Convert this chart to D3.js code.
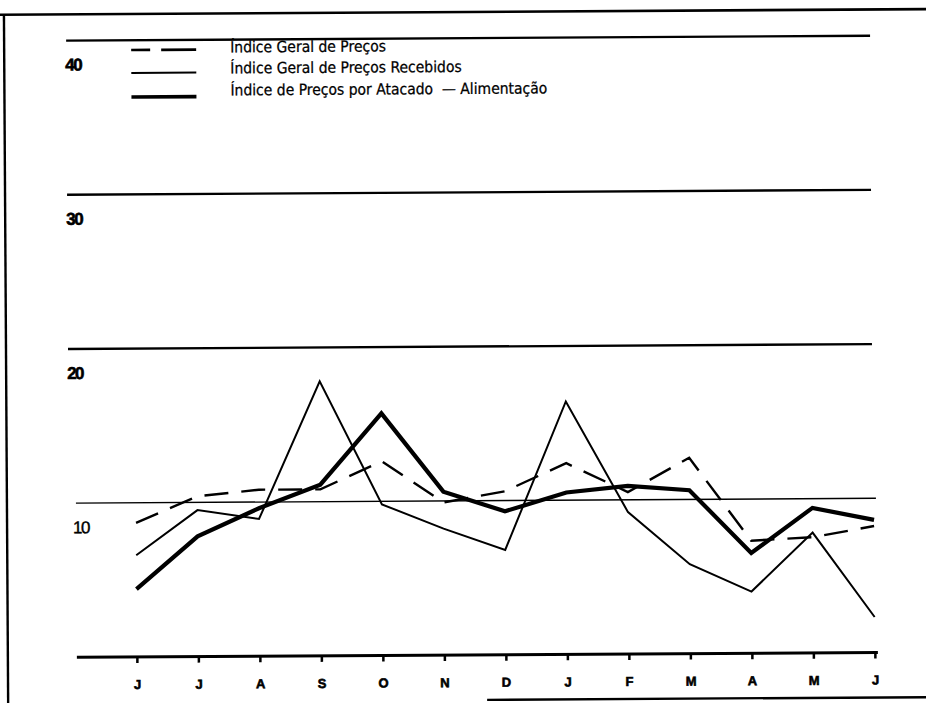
<!DOCTYPE html>
<html>
<head>
<meta charset="utf-8">
<script src="https://cdn.jsdelivr.net/npm/d3@7"></script>
<style>
  html, body { margin: 0; padding: 0; background: #fff; }
  svg { display: block; }
  .legtext { white-space: pre; }
</style>
</head>
<body>
<svg id="chart" width="926" height="703"></svg>
<script>
// ---- data ----
const months = ["J", "J", "A", "S", "O", "N", "D", "J", "F", "M", "A", "M", "J"];
const yTicks = [10, 20, 30, 40];
const indiceGeral = [8.7, 10.4, 10.8, 10.8, 12.6, 9.9, 10.6, 12.4, 10.5, 12.7, 7.3, 7.5, 8.2];
const indiceRecebidos = [6.6, 9.5, 8.9, 17.8, 9.8, 8.2, 6.8, 16.4, 9.2, 5.8, 4.0, 7.8, 2.3];
const indiceAtacado = [4.4, 7.8, 9.6, 11.1, 15.7, 10.6, 9.3, 10.5, 10.9, 10.6, 6.5, 9.4, 8.6];
const legendLabels = [
  "Índice Geral de Preços",
  "Índice Geral de Preços Recebidos",
  "Índice de Preços por Atacado  — Alimentação"
];

const svg = d3.select("#chart");
const g = svg.append("g").attr("transform", "rotate(-0.35, 463, 350)");

const x = d3.scalePoint().domain(d3.range(months.length)).range([135, 873]);
const y = d3.scaleLinear().domain([0, 40]).range([655, 38.2]);

// frame
g.append("line").attr("x1", -5).attr("x2", 935).attr("y1", 12).attr("y2", 12)
  .attr("stroke", "#000").attr("stroke-width", 2.6);
g.append("line").attr("x1", 6).attr("x2", 6).attr("y1", 12).attr("y2", 710)
  .attr("stroke", "#000").attr("stroke-width", 2.4);
g.append("line").attr("x1", 485).attr("x2", 935).attr("y1", 700).attr("y2", 700)
  .attr("stroke", "#000").attr("stroke-width", 2.4);

// gridlines
g.selectAll("line.grid").data(yTicks).join("line")
  .attr("class", "grid")
  .attr("x1", d => d === 10 ? 75 : 68)
  .attr("x2", d => d === 10 ? 875 : 872)
  .attr("y1", d => y(d)).attr("y2", d => y(d))
  .attr("stroke", "#000")
  .attr("stroke-width", d => d === 10 ? 1.4 : 2.4);

// y labels
g.selectAll("text.ylab").data(yTicks).join("text")
  .attr("class", "ylab")
  .attr("x", d => d === 10 ? 72 : 67)
  .attr("y", d => y(d) + 30)
  .attr("font-family", "Liberation Sans, Arial, sans-serif")
  .attr("font-weight", d => d === 10 ? "normal" : "bold")
  .attr("font-size", 17)
  .attr("letter-spacing", -1.5)
  .attr("stroke", "#000")
  .attr("stroke-width", d => d === 10 ? 0.4 : 0.6)
  .text(d => d);

// x axis
const xAxis = d3.axisBottom(x).tickSize(6).tickFormat(i => months[i]);
const ax = g.append("g").attr("transform", `translate(0,${y(0)})`).call(xAxis);
ax.select(".domain").attr("d", `M75,0H876`).attr("stroke", "#000").attr("stroke-width", 3);
ax.selectAll(".tick line").attr("stroke", "#000").attr("stroke-width", 2.5);
ax.selectAll(".tick text")
  .attr("y", 32)
  .attr("dy", 0)
  .attr("font-family", "Liberation Sans, Arial, sans-serif")
  .attr("font-weight", "bold")
  .attr("font-size", 13)
  .attr("stroke", "#000")
  .attr("stroke-width", 0.6)
  .attr("fill", "#000");

// lines
const line = d3.line().x((d, i) => x(i)).y(d => y(d));
const series = [
  { data: indiceGeral, width: 2.4, dash: "24,13" },
  { data: indiceRecebidos, width: 2.0, dash: null },
  { data: indiceAtacado, width: 4.2, dash: null }
];
g.selectAll("path.series").data(series).join("path")
  .attr("class", "series")
  .attr("d", d => line(d.data))
  .attr("fill", "none")
  .attr("stroke", "#000")
  .attr("stroke-width", d => d.width)
  .attr("stroke-linejoin", "miter")
  .attr("stroke-dasharray", d => d.dash);

// legend
const legendStyles = [
  { w: 2.6, dash: "19,11,36", yOff: 0 },
  { w: 2.0, dash: null, yOff: 2 },
  { w: 3.6, dash: null, yOff: 4 }
];
const leg = g.append("g");
const rowY = [46, 67, 89];
legendLabels.forEach((lab, i) => {
  const st = legendStyles[i];
  leg.append("line")
    .attr("x1", 133).attr("x2", 198)
    .attr("y1", rowY[i] + 2 + st.yOff).attr("y2", rowY[i] + 2 + st.yOff)
    .attr("stroke", "#000").attr("stroke-width", st.w)
    .attr("stroke-dasharray", st.dash);
  leg.append("text")
    .attr("class", "legtext")
    .attr("x", 232).attr("y", rowY[i] + 5)
    .attr("font-family", "Liberation Sans Narrow, DejaVu Sans Condensed, sans-serif")
    .attr("font-size", 15.5)
    .attr("fill", "#000")
    .attr("stroke", "#000")
    .attr("stroke-width", 0.25)
    .text(lab);
});
</script>
</body>
</html>
